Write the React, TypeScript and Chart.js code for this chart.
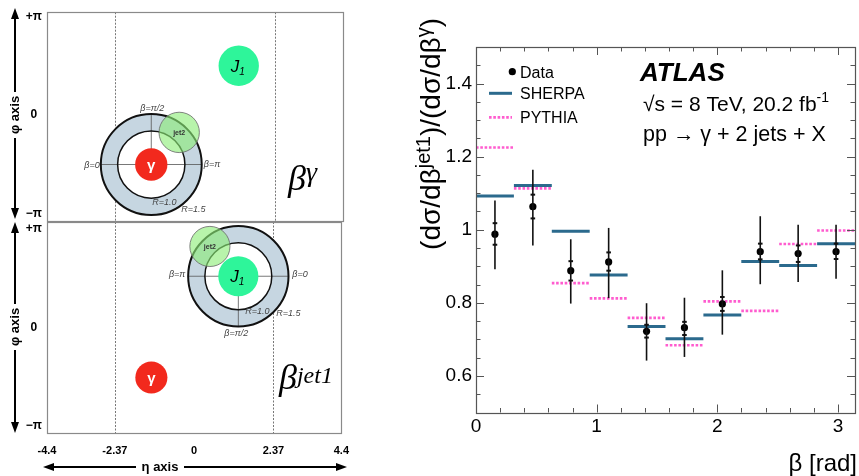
import React, { useEffect, useRef } from 'react';
import { Chart, registerables } from 'chart.js';

Chart.register(...registerables);

const SANS = '"Liberation Sans", Arial, Helvetica, sans-serif';
const SERIF = '"Liberation Serif", "Times New Roman", serif';

// ================= Right panel: normalised beta distributions =================
const binEdgeFractionsOfPi = [0, 0.1, 0.2, 0.3, 0.4, 0.5, 0.6, 0.7, 0.8, 0.9, 1.0];
const sherpaValues = [1.092, 1.121, 0.996, 0.876, 0.735, 0.702, 0.767, 0.913, 0.902, 0.962];
const pythiaValues = [1.225, 1.113, 0.854, 0.812, 0.759, 0.684, 0.804, 0.778, 0.961, 0.998];
const dataValues = [0.988, 1.063, 0.888, 0.912, 0.722, 0.732, 0.797, 0.94, 0.935, 0.94];
const dataTotalUp = [1.08, 1.164, 0.974, 1.005, 0.799, 0.814, 0.889, 1.037, 1.014, 1.014];
const dataTotalDown = [0.892, 0.957, 0.798, 0.813, 0.642, 0.652, 0.713, 0.851, 0.857, 0.866];
const dataStatUp = [1.018, 1.096, 0.914, 0.938, 0.74, 0.748, 0.816, 0.962, 0.957, 0.962];
const dataStatDown = [0.959, 1.031, 0.861, 0.888, 0.705, 0.712, 0.778, 0.919, 0.912, 0.92];
const xMajorTicks = [0, 1, 2, 3];
const xTickLabels = ['0', '1', '2', '3'];
const xMinorStep = 0.2;
const yMajorTicks = [0.6, 0.8, 1.0, 1.2, 1.4];
const yTickLabels = ['0.6', '0.8', '1', '1.2', '1.4'];
const yMinorStep = 0.05;
const legendLabels = ['Data', 'SHERPA', 'PYTHIA'];

// ================= Left panels: schematic in (eta, phi) =================
const etaTicks = [-4.4, -2.37, 0, 2.37, 4.4];
const etaTickLabels = ['-4.4', '-2.37', '0', '2.37', '4.4'];
const phiTicks = [Math.PI, 0, -Math.PI];
const phiTickLabels = ['+\u03c0', '0', '\u2212\u03c0'];
const detectorEdges = [-2.37, 2.37];
const ringRadii = [1.0, 1.5];
const photonRadius = 0.48;
const jet1Radius = 0.6;
const jet2Radius = 0.6;
// [eta, phi]
const topPhoton = [-1.3, -1.57];
const topJet1 = [1.3, 1.57];
const topJet2 = [-0.47, -0.55];
const botPhoton = [-1.28, -1.6];
const botJet1 = [1.32, 1.63];
const botJet2 = [0.47, 2.58];

const binEdges = binEdgeFractionsOfPi.map((f) => f * Math.PI);
const binCenters = sherpaValues.map((_, i) => (binEdges[i] + binEdges[i + 1]) / 2);

function stepSegments(values: number[]) {
  const pts: { x: number; y: number | null }[] = [];
  values.forEach((v, i) => {
    pts.push({ x: binEdges[i], y: v }, { x: binEdges[i + 1], y: v }, { x: binEdges[i + 1], y: null });
  });
  return pts;
}

type Part = [string, string, number];
function drawParts(ctx: CanvasRenderingContext2D, parts: Part[], x: number, y: number) {
  let cx = x;
  for (const [t, f, dy] of parts) {
    ctx.font = f;
    ctx.fillText(t, cx, y + dy);
    cx += ctx.measureText(t).width;
  }
  return cx;
}
function partsWidth(ctx: CanvasRenderingContext2D, parts: Part[]) {
  let w = 0;
  for (const [t, f] of parts) {
    ctx.font = f;
    w += ctx.measureText(t).width;
  }
  return w;
}

const rightPlugin = {
  id: 'rightDecor',
  afterDatasetsDraw(chart: any) {
    const { ctx, scales } = chart;
    const x = scales.x, y = scales.y;
    ctx.save();
    ctx.strokeStyle = '#111';
    binCenters.forEach((c, i) => {
      const px = x.getPixelForValue(c);
      ctx.lineWidth = 1.6;
      ctx.beginPath();
      ctx.moveTo(px, y.getPixelForValue(dataTotalDown[i]));
      ctx.lineTo(px, y.getPixelForValue(dataTotalUp[i]));
      ctx.stroke();
      ctx.lineWidth = 2;
      [dataStatUp[i], dataStatDown[i]].forEach((v) => {
        const py = y.getPixelForValue(v);
        ctx.beginPath();
        ctx.moveTo(px - 2.3, py);
        ctx.lineTo(px + 2.3, py);
        ctx.stroke();
      });
    });
    ctx.restore();
  },
  afterDraw(chart: any) {
    const { ctx, chartArea: ca, scales } = chart;
    const x = scales.x, y = scales.y;
    ctx.save();
    // inward ticks on all four sides
    ctx.strokeStyle = '#555';
    ctx.lineWidth = 1;
    const major = 8, minor = 4.5;
    const xMax = Math.PI;
    for (let v = 0; v <= xMax + 1e-9; v += xMinorStep) {
      const isMajor = xMajorTicks.some((m) => Math.abs(m - v) < 1e-6);
      const L = isMajor ? major : minor;
      const px = Math.round(x.getPixelForValue(v)) + 0.5;
      ctx.beginPath();
      ctx.moveTo(px, ca.bottom); ctx.lineTo(px, ca.bottom - L);
      ctx.moveTo(px, ca.top); ctx.lineTo(px, ca.top + L);
      ctx.stroke();
    }
    for (let v = 0.5; v <= 1.5 + 1e-9; v += yMinorStep) {
      const isMajor = yMajorTicks.some((m) => Math.abs(m - v) < 1e-6);
      const L = isMajor ? major : minor;
      const py = Math.round(y.getPixelForValue(v)) + 0.5;
      ctx.beginPath();
      ctx.moveTo(ca.left, py); ctx.lineTo(ca.left + L, py);
      ctx.moveTo(ca.right, py); ctx.lineTo(ca.right - L, py);
      ctx.stroke();
    }
    ctx.lineWidth = 1.2;
    ctx.strokeRect(Math.round(ca.left) + 0.5, Math.round(ca.top) + 0.5, Math.round(ca.right - ca.left), Math.round(ca.bottom - ca.top));

    // legend
    ctx.fillStyle = '#000';
    ctx.textBaseline = 'alphabetic';
    ctx.textAlign = 'left';
    const lf = `16px ${SANS}`;
    ctx.beginPath();
    ctx.arc(112.3, 71.7, 3.6, 0, Math.PI * 2);
    ctx.fill();
    ctx.font = lf;
    ctx.fillText(legendLabels[0], 120, 77.5);
    ctx.strokeStyle = '#2b6a8d';
    ctx.lineWidth = 3;
    ctx.beginPath(); ctx.moveTo(89, 93.3); ctx.lineTo(112, 93.3); ctx.stroke();
    ctx.fillText(legendLabels[1], 120, 99.2);
    ctx.strokeStyle = '#ff5ccf';
    ctx.lineWidth = 2.7;
    ctx.setLineDash([2.6, 1.7]);
    ctx.beginPath(); ctx.moveTo(89, 117.3); ctx.lineTo(112, 117.3); ctx.stroke();
    ctx.setLineDash([]);
    ctx.fillText(legendLabels[2], 120, 123.2);

    // ATLAS labels
    ctx.font = `italic bold 26px ${SANS}`;
    ctx.fillText('ATLAS', 240, 81);
    drawParts(ctx, [
      ['\u221as = 8 TeV, 20.2 fb', `21px ${SANS}`, 0],
      ['-1', `14px ${SANS}`, -9],
    ], 243, 110.5);
    drawParts(ctx, [['pp \u2192 \u03b3 + 2 jets + X', `21.5px ${SANS}`, 0]], 243, 140.5);

    // x title (right aligned, ATLAS style)
    ctx.font = `24px ${SANS}`;
    ctx.textAlign = 'right';
    ctx.fillText('\u03b2 [rad]', 457, 471);
    ctx.textAlign = 'left';

    // y title (rotated, aligned to top)
    const main = `28px ${SANS}`, sup = `20px ${SANS}`;
    const parts: Part[] = [
      ['(d\u03c3/d\u03b2', main, 0],
      ['jet1', sup, -10],
      [')/(d\u03c3/d\u03b2', main, 0],
      ['\u03b3', sup, -10],
      [')', main, 0],
    ];
    const w = partsWidth(ctx, parts);
    ctx.translate(40, 18 + w);
    ctx.rotate(-Math.PI / 2);
    drawParts(ctx, parts, 0, 0);
    ctx.restore();
  },
};

function makeRight(canvas: HTMLCanvasElement) {
  return new Chart(canvas, {
    type: 'scatter',
    data: {
      datasets: [
        {
          label: legendLabels[0],
          data: binCenters.map((c, i) => ({ x: c, y: dataValues[i] })),
          pointRadius: 3.6,
          pointBackgroundColor: '#000',
          pointBorderColor: '#000',
          pointBorderWidth: 0,
          showLine: false,
          order: 0,
        },
        {
          label: legendLabels[1],
          data: stepSegments(sherpaValues),
          showLine: true,
          spanGaps: false,
          borderColor: '#2b6a8d',
          borderWidth: 3,
          pointRadius: 0,
          order: 2,
        },
        {
          label: legendLabels[2],
          data: stepSegments(pythiaValues),
          showLine: true,
          spanGaps: false,
          borderColor: '#ff5ccf',
          borderWidth: 2.7,
          borderDash: [2.6, 1.7],
          pointRadius: 0,
          order: 1,
        },
      ] as any,
    },
    options: {
      animation: false,
      responsive: false,
      events: [],
      layout: { padding: { top: 47, right: 4, bottom: 0, left: 0 } },
      plugins: { legend: { display: false }, tooltip: { enabled: false } },
      scales: {
        x: {
          type: 'linear',
          min: 0,
          max: Math.PI,
          afterBuildTicks: (s: any) => { s.ticks = xMajorTicks.map((v) => ({ value: v })); },
          afterFit: (s: any) => { s.height = 63.5; },
          grid: { display: false, drawTicks: false },
          border: { display: false },
          ticks: {
            autoSkip: false, maxRotation: 0, padding: 3, color: '#000',
            font: { family: SANS, size: 19 },
            callback: (_v: any, i: number) => xTickLabels[i],
          },
        },
        y: {
          type: 'linear',
          min: 0.5,
          max: 1.5,
          afterBuildTicks: (s: any) => { s.ticks = yMajorTicks.map((v) => ({ value: v })); },
          afterFit: (s: any) => { s.width = 76; },
          grid: { display: false, drawTicks: false },
          border: { display: false },
          ticks: {
            autoSkip: false, padding: 4, color: '#000',
            font: { family: SANS, size: 19 },
            callback: (_v: any, i: number) => yTickLabels[i],
          },
        },
      },
    } as any,
    plugins: [rightPlugin],
  });
}

interface PanelSpec {
  photon: number[];
  jet1: number[];
  jet2: number[];
  center: 'photon' | 'jet1';
  phiMin: number;
  phiMax: number;
  padTop: number;
  padBottom: number;
  showEta: boolean;
  phiArrow: { top: number; bottom: number; mid: number };
  etaArrowY?: number;
  labels: { t: string; dx: number; dy: number; align: CanvasTextAlign }[];
  crossDown: boolean;
  title: 'gamma' | 'jet1';
  titleBaseline: number;
}

const topSpec: PanelSpec = {
  photon: topPhoton, jet1: topJet1, jet2: topJet2, center: 'photon',
  phiMin: -3.365, phiMax: 3.27, padTop: 12, padBottom: 14, showEta: false,
  phiArrow: { top: 8, bottom: 219, mid: 115 },
  labels: [
    { t: '\u03b2=\u03c0/2', dx: 1, dy: -56.5, align: 'center' },
    { t: '\u03b2=0', dx: -51.5, dy: 1, align: 'right' },
    { t: '\u03b2=\u03c0', dx: 52.5, dy: 0, align: 'left' },
    { t: 'R=1.0', dx: 13, dy: 38, align: 'center' },
    { t: 'R=1.5', dx: 42, dy: 45, align: 'center' },
  ],
  crossDown: false,
  title: 'gamma',
  titleBaseline: 190,
};

// bottom canvas starts at page y = 209
const botSpec: PanelSpec = {
  photon: botPhoton, jet1: botJet1, jet2: botJet2, center: 'jet1',
  phiMin: -3.37, phiMax: 3.36, padTop: 13, padBottom: 0, showEta: true,
  phiArrow: { top: 13, bottom: 224, mid: 118 },
  etaArrowY: 258,
  labels: [
    { t: '\u03b2=\u03c0', dx: -53, dy: -1.7, align: 'right' },
    { t: '\u03b2=0', dx: 54, dy: -1.7, align: 'left' },
    { t: '\u03b2=\u03c0/2', dx: -2, dy: 57, align: 'center' },
    { t: 'R=1.0', dx: 19, dy: 35, align: 'center' },
    { t: 'R=1.5', dx: 50, dy: 37, align: 'center' },
  ],
  crossDown: true,
  title: 'jet1',
  titleBaseline: 389 - 209,
};

function arrowHead(ctx: CanvasRenderingContext2D, x: number, y: number, dx: number, dy: number) {
  const len = 11, half = 4;
  const nx = -dy, ny = dx;
  ctx.beginPath();
  ctx.moveTo(x, y);
  ctx.lineTo(x - dx * len + nx * half, y - dy * len + ny * half);
  ctx.lineTo(x - dx * len - nx * half, y - dy * len - ny * half);
  ctx.closePath();
  ctx.fill();
}

function diagramPlugin(spec: PanelSpec) {
  return {
    id: 'diagram',
    afterDraw(chart: any) {
      const { ctx, chartArea: ca, scales } = chart;
      const x = scales.x, y = scales.y;
      const unit = Math.abs(x.getPixelForValue(1) - x.getPixelForValue(0));
      const P = (p: number[]) => [x.getPixelForValue(p[0]), y.getPixelForValue(p[1])];
      ctx.save();

      // detector acceptance lines
      ctx.strokeStyle = '#777';
      ctx.lineWidth = 1;
      ctx.setLineDash([2, 1.5]);
      detectorEdges.forEach((e) => {
        const px = Math.round(x.getPixelForValue(e)) + 0.5;
        ctx.beginPath(); ctx.moveTo(px, ca.top); ctx.lineTo(px, ca.bottom); ctx.stroke();
      });
      ctx.setLineDash([]);

      const cObj = spec.center === 'photon' ? spec.photon : spec.jet1;
      const [cx, cy] = P(cObj);
      const rIn = ringRadii[0] * unit, rOut = ringRadii[1] * unit;
      // ring
      ctx.fillStyle = '#c6d6e1';
      ctx.beginPath(); ctx.arc(cx, cy, rOut, 0, Math.PI * 2); ctx.fill();
      ctx.fillStyle = '#fff';
      ctx.beginPath(); ctx.arc(cx, cy, rIn, 0, Math.PI * 2); ctx.fill();
      // crosshair
      ctx.strokeStyle = '#555';
      ctx.lineWidth = 0.8;
      ctx.beginPath();
      ctx.moveTo(cx - rOut, cy); ctx.lineTo(cx + rOut, cy);
      ctx.moveTo(cx, cy); ctx.lineTo(cx, spec.crossDown ? cy + rOut : cy - rOut);
      ctx.stroke();
      // ring outlines
      ctx.strokeStyle = '#111';
      ctx.lineWidth = 2;
      ctx.beginPath(); ctx.arc(cx, cy, rOut, 0, Math.PI * 2); ctx.stroke();
      ctx.lineWidth = 1.5;
      ctx.beginPath(); ctx.arc(cx, cy, rIn, 0, Math.PI * 2); ctx.stroke();

      // photon
      const [gx, gy] = P(spec.photon);
      ctx.fillStyle = '#f2291d';
      ctx.beginPath(); ctx.arc(gx, gy, photonRadius * unit, 0, Math.PI * 2); ctx.fill();
      ctx.fillStyle = '#fff';
      ctx.font = `bold 15px ${SANS}`;
      ctx.textAlign = 'center';
      ctx.textBaseline = 'middle';
      ctx.fillText('\u03b3', gx, gy + 1);

      // leading jet
      const [jx, jy] = P(spec.jet1);
      ctx.fillStyle = '#2ef59a';
      ctx.beginPath(); ctx.arc(jx, jy, jet1Radius * unit, 0, Math.PI * 2); ctx.fill();
      ctx.fillStyle = '#000';
      ctx.textAlign = 'left';
      ctx.textBaseline = 'alphabetic';
      drawParts(ctx, [['J', `italic 17px ${SANS}`, 0], ['1', `italic 10px ${SANS}`, 3]], jx - 8, jy + 6);

      // second jet
      const [kx, ky] = P(spec.jet2);
      ctx.fillStyle = 'rgba(140,238,120,0.62)';
      ctx.beginPath(); ctx.arc(kx, ky, jet2Radius * unit, 0, Math.PI * 2); ctx.fill();
      ctx.strokeStyle = '#666';
      ctx.lineWidth = 0.8;
      ctx.stroke();
      ctx.fillStyle = '#333';
      ctx.font = `bold 7px ${SANS}`;
      ctx.textAlign = 'center';
      ctx.textBaseline = 'middle';
      ctx.fillText('jet2', kx, ky + 1);

      // beta / R labels
      ctx.fillStyle = '#444';
      ctx.font = `italic 9px ${SANS}`;
      spec.labels.forEach((l) => {
        ctx.textAlign = l.align;
        ctx.fillText(l.t, cx + l.dx, cy + l.dy);
      });

      // frame
      ctx.strokeStyle = '#8a8a8a';
      ctx.lineWidth = 1.2;
      ctx.strokeRect(Math.round(ca.left) + 0.5, Math.round(ca.top) + 0.5, Math.round(ca.right - ca.left), Math.round(ca.bottom - ca.top));

      // panel title
      ctx.fillStyle = '#000';
      ctx.textAlign = 'left';
      ctx.textBaseline = 'alphabetic';
      if (spec.title === 'gamma') {
        drawParts(ctx, [['\u03b2', `italic 36px ${SERIF}`, 0], ['\u03b3', `italic 28px ${SERIF}`, -9]], 288, spec.titleBaseline);
      } else {
        drawParts(ctx, [['\u03b2', `italic 36px ${SERIF}`, 0], ['jet1', `italic 24px ${SERIF}`, -6]], 279, spec.titleBaseline);
      }

      // phi axis arrow
      const ax = 15;
      const a = spec.phiArrow;
      ctx.strokeStyle = '#000';
      ctx.fillStyle = '#000';
      ctx.lineWidth = 2;
      ctx.beginPath();
      ctx.moveTo(ax, a.top + 8); ctx.lineTo(ax, a.mid - 23);
      ctx.moveTo(ax, a.mid + 23); ctx.lineTo(ax, a.bottom - 8);
      ctx.stroke();
      arrowHead(ctx, ax, a.top, 0, -1);
      arrowHead(ctx, ax, a.bottom, 0, 1);
      ctx.save();
      ctx.translate(ax, a.mid);
      ctx.rotate(-Math.PI / 2);
      ctx.font = `bold 13px ${SANS}`;
      ctx.textAlign = 'center';
      ctx.textBaseline = 'middle';
      ctx.fillText('\u03c6 axis', 0, 0);
      ctx.restore();

      // eta axis arrow
      if (spec.etaArrowY !== undefined) {
        const ey = spec.etaArrowY;
        ctx.beginPath();
        ctx.moveTo(43 + 8, ey); ctx.lineTo(136, ey);
        ctx.moveTo(184, ey); ctx.lineTo(347 - 8, ey);
        ctx.stroke();
        arrowHead(ctx, 43, ey, -1, 0);
        arrowHead(ctx, 347, ey, 1, 0);
        ctx.font = `bold 13px ${SANS}`;
        ctx.textAlign = 'center';
        ctx.textBaseline = 'middle';
        ctx.fillText('\u03b7 axis', 160, ey);
      }
      ctx.restore();
    },
  };
}

function makeDiagram(canvas: HTMLCanvasElement, spec: PanelSpec) {
  return new Chart(canvas, {
    type: 'scatter',
    data: { datasets: [] },
    options: {
      animation: false,
      responsive: false,
      events: [],
      layout: { padding: { top: spec.padTop, right: 17, bottom: spec.padBottom, left: 0 } },
      plugins: { legend: { display: false }, tooltip: { enabled: false } },
      scales: {
        x: {
          type: 'linear',
          min: -4.4,
          max: 4.4,
          display: spec.showEta,
          afterBuildTicks: (s: any) => { s.ticks = etaTicks.map((v) => ({ value: v })); },
          afterFit: (s: any) => { s.height = spec.showEta ? 43 : 0; },
          grid: { display: false, drawTicks: false },
          border: { display: false },
          ticks: {
            autoSkip: false, maxRotation: 0, padding: 11, color: '#000',
            font: { family: SANS, size: 11, weight: 'bold' },
            callback: (_v: any, i: number) => etaTickLabels[i],
          },
        },
        y: {
          type: 'linear',
          min: spec.phiMin,
          max: spec.phiMax,
          afterBuildTicks: (s: any) => { s.ticks = phiTicks.map((v) => ({ value: v })); },
          afterFit: (s: any) => { s.width = 47; },
          grid: { display: false, drawTicks: false },
          border: { display: false },
          ticks: {
            autoSkip: false, padding: 5, crossAlign: 'center', color: '#000',
            font: { family: SANS, size: 12, weight: 'bold' },
            callback: (_v: any, i: number) => phiTickLabels[i],
          },
        },
      },
    } as any,
    plugins: [diagramPlugin(spec)],
  });
}

export default function App() {
  const topRef = useRef<HTMLCanvasElement>(null);
  const botRef = useRef<HTMLCanvasElement>(null);
  const rightRef = useRef<HTMLCanvasElement>(null);

  useEffect(() => {
    const charts: Chart[] = [];
    if (topRef.current) charts.push(makeDiagram(topRef.current, topSpec));
    if (botRef.current) charts.push(makeDiagram(botRef.current, botSpec));
    if (rightRef.current) charts.push(makeRight(rightRef.current));
    return () => charts.forEach((c) => c.destroy());
  }, []);

  return (
    <div style={{ position: 'absolute', left: 0, top: 0, width: 859, height: 476, background: '#fff', overflow: 'hidden' }}>
      <canvas ref={topRef} width={360} height={235} style={{ position: 'absolute', left: 0, top: 0, width: 360, height: 235 }} />
      <canvas ref={botRef} width={360} height={267} style={{ position: 'absolute', left: 0, top: 209, width: 360, height: 267 }} />
      <canvas ref={rightRef} width={459} height={476} style={{ position: 'absolute', left: 400, top: 0, width: 459, height: 476 }} />
    </div>
  );
}
